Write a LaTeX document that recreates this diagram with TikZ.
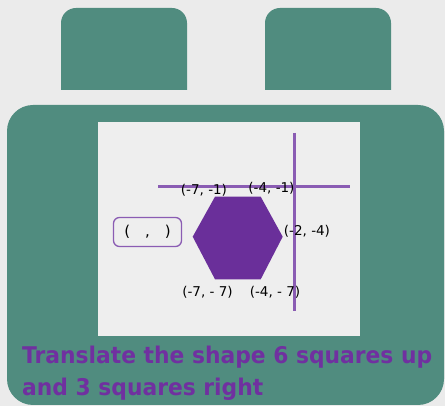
\documentclass[tikz,border=0pt]{standalone}
\usepackage{fontspec}
\setmainfont{DejaVu Sans}
\newfontfamily\captfont{DejaVu Sans}
\definecolor{bgc}{HTML}{EBEBEB}
\definecolor{teal}{HTML}{508C7F}
\definecolor{panel}{HTML}{EEEEEE}
\definecolor{hexc}{HTML}{6A2F9A}
\definecolor{axisc}{HTML}{8A5CB3}
\definecolor{txtc}{HTML}{7030A0}
\newlength\capwidth
\newcommand\captsize{\captfont\bfseries\fontsize{23}{26}\selectfont}
\AtBeginDocument{\settowidth\capwidth{\captsize Translate the shape 6 squares up}\pgfmathsetmacro\capfac{410/\capwidth}}
\tikzset{
  lbl/.style={font=\fontsize{13.5}{15}\selectfont, text=black, inner sep=0pt},
  axis/.style={draw=axisc, line width=2.6pt},
  capt/.style={text=txtc, inner sep=0pt, anchor=base west}
}
\begin{document}
\begin{tikzpicture}[x=1pt,y=-1pt]
\useasboundingbox (0,0) rectangle (445,406);
\fill[bgc] (0,0) rectangle (445,406);
% tabs
\begin{scope}
\clip (0,0) rectangle (445,90);
\fill[teal, rounded corners=15pt] (61,8) rectangle (187,130);
\fill[teal, rounded corners=15pt] (265,8) rectangle (391,130);
\end{scope}
% body
\fill[teal, rounded corners=26pt] (7,105) rectangle (444,405);
% panel
\fill[panel] (98,122) rectangle (360,336);
% axes
\coordinate (hl) at (158,186.7);
\coordinate (hr) at (350,186.7);
\coordinate (vt) at (294.5,133);
\coordinate (vb) at (294.5,311);
\draw[axis] (hl) -- (hr);
\draw[axis] (vt) -- (vb);
% hexagon
\fill[hexc] (215,196.7) -- (260.7,196.7) -- (282.7,236.7) -- (260.7,279.3) -- (215,279.3) -- (192.7,236.7) -- cycle;
% answer box
\node[draw=axisc, line width=1.3pt, rounded corners=6pt, minimum width=68pt, minimum height=29pt, inner sep=0pt] (ans) at (147.5,232) {\fontsize{15}{16}\selectfont (\hspace{15pt},\hspace{15pt})};
% labels
\node[lbl] (a) at (204,190) {(-7, -1)};
\node[lbl] (b) at (271.5,188.5) {(-4, -1)};
\node[lbl] (c) at (307,231) {(-2, -4)};
\node[lbl] (d) at (207.5,292) {(-7, - 7)};
\node[lbl] (e) at (275,292) {(-4, - 7)};
% caption
\node[capt] (cap) at (22,363) {\scalebox{\capfac}[1]{\captsize Translate the shape 6 squares up}};
\node[capt] (cap2) at (22,395.3) {\scalebox{\capfac}[1]{\captsize and 3 squares right}};
\end{tikzpicture}
\end{document}
